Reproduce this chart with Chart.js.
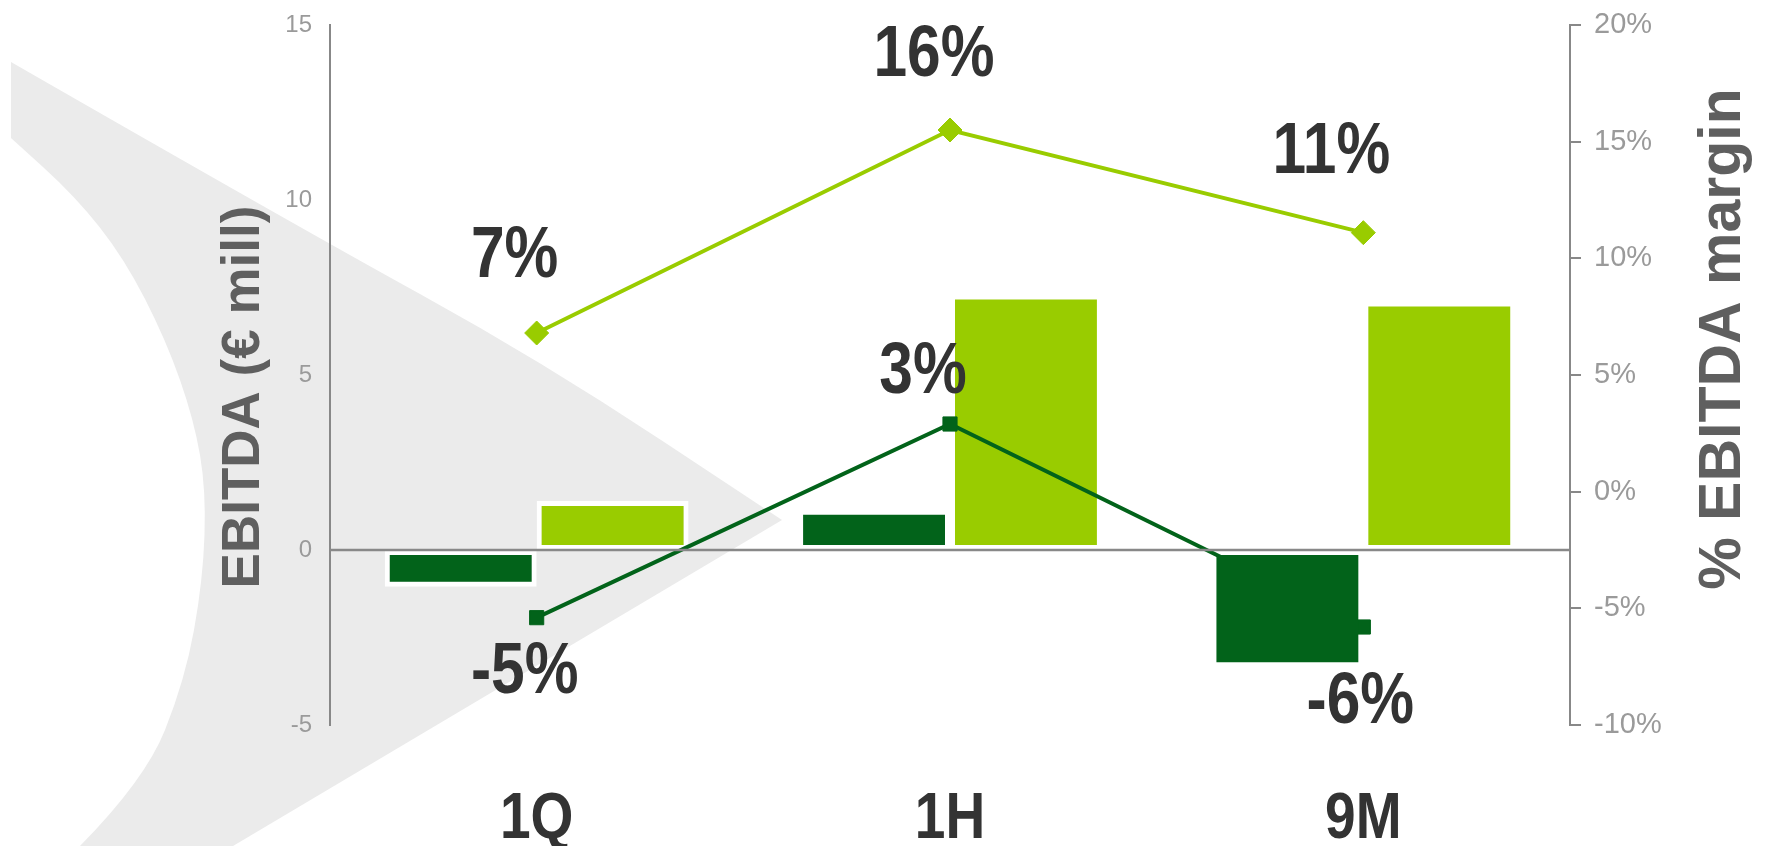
<!DOCTYPE html>
<html lang="en">
<head>
<meta charset="UTF-8">
<title>EBITDA and EBITDA margin</title>
<style>
    * {
        margin: 0;
        padding: 0;
        box-sizing: border-box;
    }
    body {
        background-color: #fff;
        width: 1766px;
        height: 846px;
        overflow: hidden;
    }
</style>
</head>
<body>

<canvas id="ebitdaChart" width="1766" height="846"></canvas>

<script src="https://cdn.jsdelivr.net/npm/chart.js@4.4.0/dist/chart.umd.min.js"></script>

<script>
// data
const periods = ['1Q', '1H', '9M'];
const ebitdaDark = [-1.05, 1.15, -3.35];   // € mill
const ebitdaLight = [1.4, 7.3, 7.1];       // € mill
const marginLight = [6.8, 15.5, 11.1];     // %
const marginDark = [-5.4, 2.9, -5.8];      // %
const leftTicks = [-5, 0, 5, 10, 15];
const rightTicks = [-10, -5, 0, 5, 10, 15, 20];

const DARK = '#02631a';
const LIGHT = '#99cc00';
const SANS = '"Liberation Sans", Arial, sans-serif';

// label offsets from each point (px)
const lightLabelOffsets = [[-22, -82], [-16, -80], [-32, -86]];
const darkLabelOffsets = [[-12, 49], [-27, -57], [-3, 70]];

// no Arial Narrow here, so squeeze Liberation Sans
function narrowText(ctx, txt, x, y, squeeze) {
    ctx.save();
    ctx.translate(x, y);
    ctx.scale(squeeze, 1);
    ctx.fillText(txt, 0, 0);
    ctx.restore();
}

// grey swoosh behind the chart
function smoothPath(ctx, pts) {
    ctx.lineTo(pts[0][0], pts[0][1]);
    for (let i = 1; i < pts.length - 1; i++) {
        const mx = (pts[i][0] + pts[i + 1][0]) / 2;
        const my = (pts[i][1] + pts[i + 1][1]) / 2;
        ctx.quadraticCurveTo(pts[i][0], pts[i][1], mx, my);
    }
    const last = pts[pts.length - 1];
    ctx.lineTo(last[0], last[1]);
}

const backdrop = {
    id: 'backdrop',
    beforeDraw(chart) {
        const ctx = chart.ctx;
        ctx.save();
        ctx.fillStyle = '#fff';
        ctx.fillRect(0, 0, chart.width, chart.height);
        ctx.fillStyle = '#ebebeb';
        ctx.beginPath();
        ctx.moveTo(11, 62);
        smoothPath(ctx, [[11, 62], [300, 228], [540, 360], [782, 520]]);
        ctx.lineTo(233, 846);
        ctx.lineTo(80, 846);
        smoothPath(ctx, [[80, 846], [145, 780], [185, 680], [203, 580], [206, 490], [194, 420], [166, 340], [124, 258], [75, 196], [11, 138]]);
        ctx.closePath();
        ctx.fill();
        ctx.restore();
    }
};

// zero line, value labels, category labels and axis titles
const overlays = {
    id: 'overlays',
    afterDatasetsDraw(chart) {
        const ctx = chart.ctx;
        const area = chart.chartArea;
        const y0 = chart.scales.y.getPixelForValue(0);
        ctx.save();
        ctx.strokeStyle = '#888';
        ctx.lineWidth = 2.5;
        ctx.beginPath();
        ctx.moveTo(area.left, y0);
        ctx.lineTo(area.right, y0);
        ctx.stroke();

        ctx.fillStyle = '#333';
        ctx.font = 'bold 72px ' + SANS;
        ctx.textAlign = 'center';
        ctx.textBaseline = 'alphabetic';
        const sets = [[2, marginLight, lightLabelOffsets], [3, marginDark, darkLabelOffsets]];
        sets.forEach(([idx, values, offs]) => {
            chart.getDatasetMeta(idx).data.forEach((pt, i) => {
                const txt = Math.round(values[i]) + '%';
                narrowText(ctx, txt, pt.x + offs[i][0], pt.y + offs[i][1] + 26, 0.84);
            });
        });
        ctx.restore();
    },
    afterDraw(chart) {
        const ctx = chart.ctx;
        const area = chart.chartArea;
        const xScale = chart.scales.x;
        const midY = (area.top + area.bottom) / 2;

        ctx.save();
        ctx.fillStyle = '#333';
        ctx.font = 'bold 64px ' + SANS;
        ctx.textAlign = 'center';
        ctx.textBaseline = 'alphabetic';
        periods.forEach((p, i) => {
            narrowText(ctx, p, xScale.getPixelForValue(i), area.bottom + 113, 0.86);
        });
        ctx.restore();

        ctx.save();
        ctx.fillStyle = '#5f5f5f';
        ctx.textAlign = 'center';
        ctx.textBaseline = 'middle';
        ctx.translate(area.left - 86, midY + 22);
        ctx.rotate(-Math.PI / 2);
        ctx.font = 'bold 53px ' + SANS;
        ctx.fillText('EBITDA (€ mill)', 0, 0);
        ctx.restore();

        ctx.save();
        ctx.fillStyle = '#5f5f5f';
        ctx.textAlign = 'center';
        ctx.textBaseline = 'middle';
        ctx.translate(area.right + 154, midY - 36);
        ctx.rotate(-Math.PI / 2);
        ctx.font = 'bold 59px ' + SANS;
        ctx.fillText('% EBITDA margin', 0, 0);
        ctx.restore();
    }
};

// only the first pair of bars shows its white frame
const frameColor = c => (c.dataIndex === 0 ? '#fff' : 'rgba(255,255,255,0)');

// keep the plot box fixed: no extra padding from the tick labels
const noPad = s => { s.paddingTop = 0; s.paddingBottom = 0; };

new Chart(document.getElementById('ebitdaChart'), {
    type: 'bar',
    data: {
        labels: periods,
        datasets: [
            {
                label: 'EBITDA A',
                data: ebitdaDark,
                backgroundColor: DARK,
                borderColor: frameColor,
                borderWidth: 5,
                borderSkipped: false,
                categoryPercentage: 0.735,
                barPercentage: 1.0,
                yAxisID: 'y',
                order: 1
            },
            {
                label: 'EBITDA B',
                data: ebitdaLight,
                backgroundColor: LIGHT,
                borderColor: frameColor,
                borderWidth: 5,
                borderSkipped: false,
                categoryPercentage: 0.735,
                barPercentage: 1.0,
                yAxisID: 'y',
                order: 3
            },
            {
                type: 'line',
                label: 'Margin B',
                data: marginLight,
                borderColor: LIGHT,
                borderWidth: 4,
                pointStyle: 'rectRot',
                pointRadius: 12,
                pointBackgroundColor: LIGHT,
                pointBorderColor: LIGHT,
                pointBorderWidth: 1,
                tension: 0,
                yAxisID: 'y1',
                order: 2
            },
            {
                type: 'line',
                label: 'Margin A',
                data: marginDark,
                borderColor: DARK,
                borderWidth: 4,
                pointStyle: 'rect',
                pointRadius: 10,
                pointBackgroundColor: DARK,
                pointBorderColor: DARK,
                pointBorderWidth: 1,
                tension: 0,
                yAxisID: 'y1',
                order: 2
            }
        ]
    },
    options: {
        responsive: false,
        animation: false,
        devicePixelRatio: 1,
        layout: { padding: { top: 25, left: 0, right: 0, bottom: 0 } },
        plugins: {
            legend: { display: false },
            tooltip: { enabled: false }
        },
        scales: {
            x: {
                grid: { display: false, drawTicks: false },
                border: { display: false },
                ticks: { display: false },
                afterFit: s => { s.height = 121; }
            },
            y: {
                position: 'left',
                min: -5,
                max: 15,
                grid: { display: false, drawTicks: false },
                border: { display: true, color: '#888', width: 2 },
                ticks: {
                    color: '#9a9a9a',
                    font: { family: SANS, size: 24 },
                    padding: 18
                },
                afterBuildTicks: s => { s.ticks = leftTicks.map(v => ({ value: v })); },
                afterFit: s => { s.width = 330; noPad(s); }
            },
            y1: {
                position: 'right',
                min: -10,
                max: 20,
                grid: {
                    display: true,
                    drawOnChartArea: false,
                    drawTicks: true,
                    tickLength: 11,
                    color: '#888',
                    lineWidth: 2
                },
                border: { display: true, color: '#888', width: 2 },
                ticks: {
                    color: '#9a9a9a',
                    font: { family: SANS, size: 29 },
                    padding: 13,
                    callback: v => v + '%'
                },
                afterBuildTicks: s => { s.ticks = rightTicks.map(v => ({ value: v })); },
                afterFit: s => { s.width = 196; noPad(s); }
            }
        }
    },
    plugins: [backdrop, overlays]
});
</script>

</body>
</html>
